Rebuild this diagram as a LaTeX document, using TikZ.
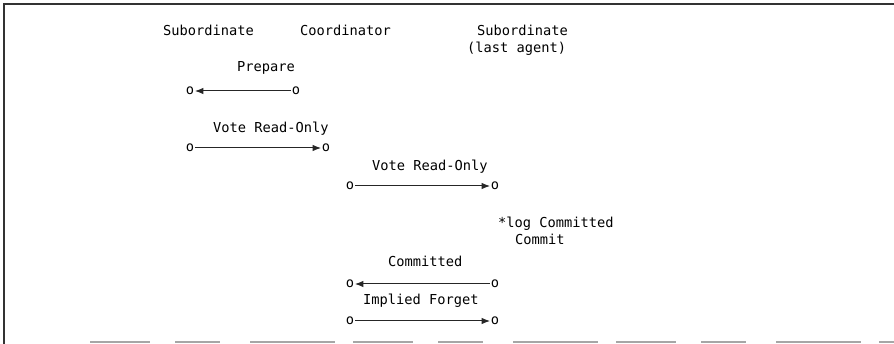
\documentclass[tikz,border=0pt]{standalone}
\usepackage{fontspec}
\setmonofont{DejaVu Sans Mono}
\usetikzlibrary{arrows.meta}
\begin{document}
\begin{tikzpicture}[x=1pt,y=-1pt,
  lbl/.style={font=\ttfamily\fontsize{13.7}{16}\selectfont, inner sep=0pt, anchor=base west},
  endpt/.style={font=\ttfamily\fontsize{13.7}{16}\selectfont, inner sep=0.6pt},
  msg/.style={draw=black!85, line width=1pt, -{Latex[length=8.5pt,width=6.5pt]}},
  frame/.style={draw=black!80, line width=1.1pt},
  base/.style={draw=black!35, line width=1.2pt, dash pattern=on 60pt off 25pt on 45pt off 30pt on 85pt off 18pt}]
\useasboundingbox (0,0) rectangle (894,344);

% page frame
\draw[frame] (4,344) -- (4,4) -- (894,4);
\draw[base] (90,342) -- (894,342);

% column headings
\node[lbl] (hsub1) at (163,36) {Subordinate};
\node[lbl] (hcoord) at (300,36) {Coordinator};
\node[lbl] (hsub2) at (477,36) {Subordinate};
\node[lbl] (hlast) at (467,53) {(last agent)};

% Prepare: coordinator -> subordinate
\node[lbl] (tprep) at (237,72) {Prepare};
\node[endpt] (p1) at (190,91) {o};
\node[endpt] (p2) at (296,91) {o};
\draw[msg] (p2) -- (p1);

% Vote Read-Only: subordinate -> coordinator
\node[lbl] (tvote1) at (213,133) {Vote Read-Only};
\node[endpt] (v1) at (190,148) {o};
\node[endpt] (v2) at (326,148) {o};
\draw[msg] (v1) -- (v2);

% Vote Read-Only: coordinator -> last agent
\node[lbl] (tvote2) at (372,171) {Vote Read-Only};
\node[endpt] (w1) at (350,186) {o};
\node[endpt] (w2) at (495,186) {o};
\draw[msg] (w1) -- (w2);

% last agent logs the decision
\node[lbl] (tlog) at (498,228) {*log Committed};
\node[lbl] (tcommit) at (515,245) {Commit};

% Committed: last agent -> coordinator
\node[lbl] (tcomm) at (388,267) {Committed};
\node[endpt] (c1) at (350,284) {o};
\node[endpt] (c2) at (495,284) {o};
\draw[msg] (c2) -- (c1);

% Implied Forget: coordinator -> last agent
\node[lbl] (tforget) at (363,305) {Implied Forget};
\node[endpt] (f1) at (350,321) {o};
\node[endpt] (f2) at (495,321) {o};
\draw[msg] (f1) -- (f2);
\end{tikzpicture}
\end{document}
